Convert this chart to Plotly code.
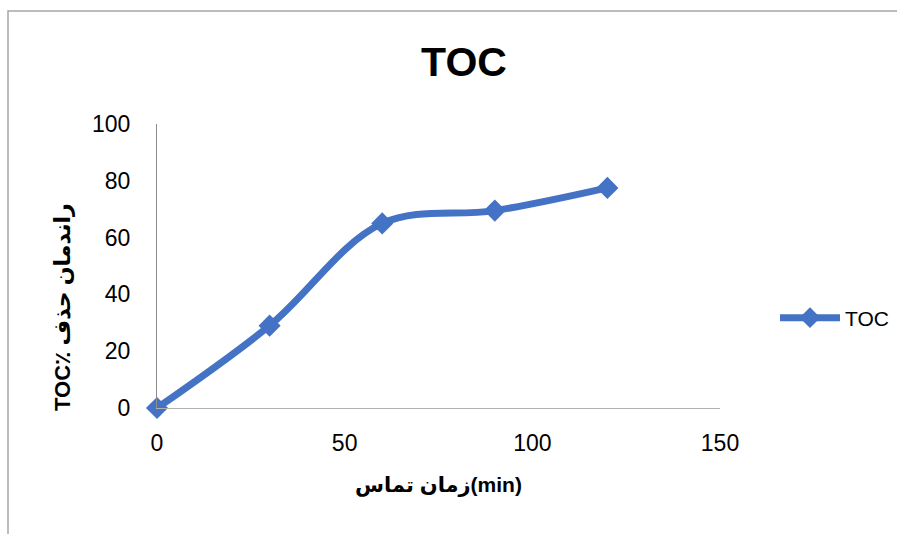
import plotly.graph_objects as go

# Contact time (min) and TOC removal efficiency (%)
contact_time = [0, 30, 60, 90, 120]
toc_removal = [0, 29, 65, 69.5, 77.5]

series_name = "TOC"
chart_title = "TOC"
x_title = "زمان تماس(min)"
y_title = "TOC٪ راندمان حذف"
x_ticks = [0, 50, 100, 150]
y_ticks = [0, 20, 40, 60, 80, 100]

BLUE = "#4472C4"
FONT = "Liberation Sans, DejaVu Sans, Arial, sans-serif"

W, H = 897, 534
L, R, T, B = 157, 177, 124, 126  # plot area margins in px


def px_to_paper_x(px):
    return (px - L) / (W - L - R)


def px_to_paper_y(py):
    return (H - B - py) / (H - T - B)


fig = go.Figure()
fig.add_trace(go.Scatter(
    x=contact_time,
    y=toc_removal,
    name=series_name,
    mode="lines+markers",
    line=dict(color=BLUE, width=7, shape="spline", smoothing=1.0),
    marker=dict(symbol="diamond", size=17, color=BLUE),
    cliponaxis=False,
))

fig.update_layout(
    width=W,
    height=H,
    margin=dict(l=L, r=R, t=T, b=B, pad=0, autoexpand=False),
    paper_bgcolor="white",
    plot_bgcolor="white",
    font=dict(family=FONT, color="#000000", size=23),
    title=dict(
        text="<b>" + chart_title + "</b>",
        font=dict(family=FONT, size=41, color="#000000"),
        x=464 / W, xref="container", xanchor="center",
        y=1 - 62 / H, yref="container", yanchor="middle",
    ),
    showlegend=True,
    legend=dict(
        x=px_to_paper_x(775), xanchor="left",
        y=px_to_paper_y(318), yanchor="middle",
        font=dict(family=FONT, size=21, color="#000000"),
        itemwidth=60,
        bgcolor="rgba(0,0,0,0)",
    ),
)

fig.update_xaxes(
    range=[0, 150],
    tickvals=x_ticks,
    showgrid=False,
    zeroline=False,
    showline=True,
    linecolor="#B0B0B0",
    linewidth=1,
    ticks="outside",
    ticklen=14,
    tickcolor="rgba(0,0,0,0)",
    tickfont=dict(family=FONT, size=23, color="#000000"),
    automargin=False,
    title=dict(
        text="<b>" + x_title + "</b>",
        font=dict(family=FONT, size=21, color="#000000"),
        standoff=22,
    ),
)

fig.update_yaxes(
    range=[0, 100],
    tickvals=y_ticks,
    showgrid=False,
    zeroline=False,
    showline=True,
    linecolor="#8C8C8C",
    linewidth=1,
    ticks="outside",
    ticklen=21,
    tickcolor="rgba(0,0,0,0)",
    tickfont=dict(family=FONT, size=23, color="#000000"),
    automargin=False,
)

# Rotated y-axis title
fig.add_annotation(
    text="<b>" + y_title + "</b>",
    textangle=-90,
    xref="paper", yref="paper",
    x=px_to_paper_x(62), y=px_to_paper_y(307),
    xanchor="center", yanchor="middle",
    showarrow=False,
    font=dict(family=FONT, size=22, color="#000000"),
)

# Chart frame
fig.add_shape(
    type="rect",
    xref="paper", yref="paper",
    x0=px_to_paper_x(8), x1=px_to_paper_x(905),
    y0=px_to_paper_y(545), y1=px_to_paper_y(11),
    line=dict(color="#A6A6A6", width=1.5),
    fillcolor="rgba(0,0,0,0)",
    layer="below",
)

fig.write_html("out.html")
